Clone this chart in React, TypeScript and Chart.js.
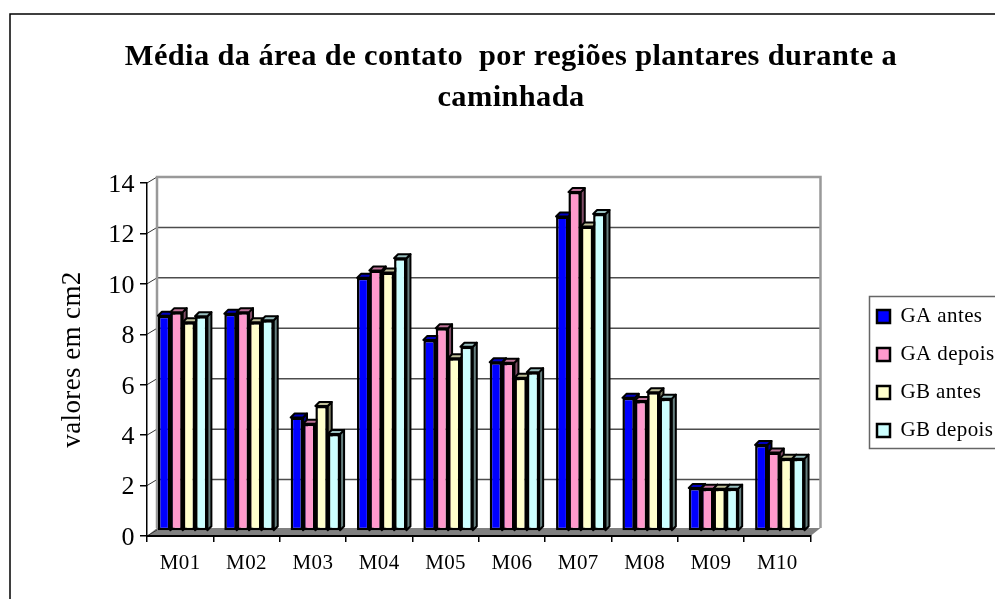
import React, { useEffect, useRef } from "react";
import { Chart, registerables } from "chart.js";

Chart.register(...registerables);

const categories = ["M01", "M02", "M03", "M04", "M05", "M06", "M07", "M08", "M09", "M10"];
const gaAntes = [8.54, 8.62, 4.5, 10.04, 7.58, 6.69, 12.47, 5.28, 1.71, 3.41];
const gaDepois = [8.68, 8.68, 4.25, 10.33, 8.04, 6.67, 13.44, 5.16, 1.68, 3.11];
const gbAntes = [8.28, 8.28, 4.96, 10.25, 6.85, 6.08, 12.08, 5.5, 1.68, 2.87];
const gbDepois = [8.52, 8.36, 3.85, 10.82, 7.31, 6.3, 12.57, 5.25, 1.68, 2.87];
const seriesNames = ["GA antes", "GA depois", "GB antes", "GB depois"];
const seriesValues = [gaAntes, gaDepois, gbAntes, gbDepois];
const fills = ["#0000FF", "#FF99CC", "#FFFFCC", "#CCFFFF"];
const topFills = ["#0000BF", "#BF7399", "#BFBF99", "#99BFBF"];
const sideFills = ["#00007F", "#7F4C66", "#7F7F66", "#667F7F"];
const titleLines = ["Média da área de contato  por regiões plantares durante a", "caminhada"];
const yAxisTitle = "valores em cm2";

const SERIF = "'Liberation Serif', serif";

const scene = {
  id: "scene",
  beforeLayout(chart: any) {
    chart.ctx.letterSpacing = "0.4px";
  },
  afterLayout(chart: any) {
    const l = chart.legend;
    const w = l.width;
    const h = l.height;
    l.left = 860;
    l.right = 860 + w;
    l.top = 74;
    l.bottom = 74 + h;
    const t = chart.titleBlock;
    const shift = 511 - (t.left + t.right) / 2;
    t.left += shift;
    t.right += shift;
  },
  beforeDraw(chart: any) {
    const { ctx, chartArea: a, scales } = chart;
    const y = scales.y;
    ctx.save();
    ctx.fillStyle = "#fff";
    ctx.fillRect(0, 0, chart.width, chart.height);
    ctx.strokeStyle = "#000";
    ctx.lineWidth = 1.5;
    ctx.strokeRect(10, 14, 1200, 1000);

    const dx = 10;
    const dy = -6;
    ctx.fillStyle = "#808080";
    ctx.beginPath();
    ctx.moveTo(a.left, a.bottom);
    ctx.lineTo(a.left + dx, a.bottom + dy - 2);
    ctx.lineTo(a.right + dx, a.bottom + dy - 2);
    ctx.lineTo(a.right, a.bottom);
    ctx.closePath();
    ctx.fill();

    for (const t of y.ticks) {
      const py = y.getPixelForValue(t.value);
      if (t.value > 0 && t.value < 14) {
        ctx.strokeStyle = "#4d4d4d";
        ctx.lineWidth = 1.5;
        ctx.beginPath();
        ctx.moveTo(a.left + dx, py + dy);
        ctx.lineTo(a.right + dx, py + dy);
        ctx.stroke();
      }
      ctx.strokeStyle = "#333";
      ctx.lineWidth = 1;
      ctx.beginPath();
      ctx.moveTo(a.left, py);
      ctx.lineTo(a.left + dx, py + dy);
      ctx.stroke();
    }
    ctx.strokeStyle = "#999";
    ctx.lineWidth = 2.5;
    ctx.beginPath();
    ctx.moveTo(a.left + dx, a.bottom + dy - 2);
    ctx.lineTo(a.left + dx, a.top + dy);
    ctx.lineTo(a.right + dx, a.top + dy);
    ctx.lineTo(a.right + dx, a.bottom + dy - 2);
    ctx.stroke();
    ctx.restore();
  },
  beforeDatasetsDraw(chart: any) {
    const { ctx } = chart;
    ctx.save();
    ctx.translate(2.5, -5);
    const d = 4;
    ctx.save();
    ctx.strokeStyle = "#000";
    ctx.lineWidth = 2;
    ctx.lineJoin = "round";
    const n = categories.length;
    for (let c = 0; c < n; c++) {
      for (let i = 0; i < seriesNames.length; i++) {
        const el = chart.getDatasetMeta(i).data[c];
        const { x, y, base, width } = el.getProps(["x", "y", "base", "width"], true);
        const l = x - width / 2;
        const r = x + width / 2;
        ctx.fillStyle = sideFills[i];
        ctx.beginPath();
        ctx.moveTo(r, y);
        ctx.lineTo(r + d, y - d);
        ctx.lineTo(r + d, base - d);
        ctx.lineTo(r, base);
        ctx.closePath();
        ctx.fill();
        ctx.stroke();
        ctx.fillStyle = topFills[i];
        ctx.beginPath();
        ctx.moveTo(l, y);
        ctx.lineTo(l + d, y - d);
        ctx.lineTo(r + d, y - d);
        ctx.lineTo(r, y);
        ctx.closePath();
        ctx.fill();
        ctx.stroke();
      }
    }
    ctx.restore();
  },
  afterDatasetsDraw(chart: any) {
    chart.ctx.restore();
  },
  afterDraw(chart: any) {
    const { ctx } = chart;
    ctx.save();
    ctx.strokeStyle = "#666";
    ctx.lineWidth = 1.5;
    ctx.strokeRect(869.5, 296.5, 300, 152);
    ctx.restore();
  },
};

export default function App() {
  const ref = useRef<HTMLCanvasElement>(null);
  useEffect(() => {
    const chart = new Chart(ref.current as HTMLCanvasElement, {
      type: "bar",
      data: {
        labels: categories,
        datasets: seriesNames.map((name, i) => ({
          label: name,
          data: seriesValues[i],
          backgroundColor: fills[i],
          borderColor: "#000",
          borderWidth: 2.5,
          borderSkipped: false,
          categoryPercentage: 0.745,
          barPercentage: 1,
          clip: false,
        })),
      } as any,
      options: {
        responsive: false,
        animation: false,
        devicePixelRatio: 1,
        layout: { padding: { left: 27, right: 40, top: 0, bottom: 0 } },
        plugins: {
          tooltip: { enabled: false },
          title: {
            display: true,
            text: titleLines,
            color: "#000",
            font: { family: SERIF, size: 30.4, weight: "bold", lineHeight: 41 / 30.4 },
            padding: { top: 37, bottom: 64 },
          },
          legend: {
            position: "right",
            labels: {
              boxWidth: 13,
              boxHeight: 13,
              padding: 17,
              color: "#000",
              font: { family: SERIF, size: 21 },
            },
          },
        },
        scales: {
          x: {
            grid: { offset: true, drawOnChartArea: false, tickLength: 6, color: "#000", lineWidth: 1.5 },
            border: { color: "#000", width: 2 },
            ticks: { color: "#000", padding: 9, maxRotation: 0, font: { family: SERIF, size: 21 } },
            afterFit: (s: any) => {
              s.height = 63;
            },
          },
          y: {
            min: 0,
            max: 14,
            grid: { drawOnChartArea: false, tickLength: 7, color: "#000", lineWidth: 1.5 },
            border: { color: "#000", width: 1.5 },
            ticks: { stepSize: 2, color: "#000", padding: 5, labelOffset: 2, font: { family: SERIF, size: 26 } },
            title: {
              display: true,
              text: yAxisTitle,
              color: "#000",
              font: { family: SERIF, size: 27 },
              padding: { top: 30, bottom: 0 },
            },
            afterFit: (s: any) => {
              s.width = 120;
            },
          },
        },
      },
      plugins: [scene],
    } as any);
    return () => chart.destroy();
  }, []);
  return (
    <div style={{ position: "fixed", left: 0, top: 0, width: 995, height: 599, overflow: "hidden", background: "#fff" }}>
      <canvas ref={ref} width={995} height={599} style={{ display: "block" }} />
    </div>
  );
}
